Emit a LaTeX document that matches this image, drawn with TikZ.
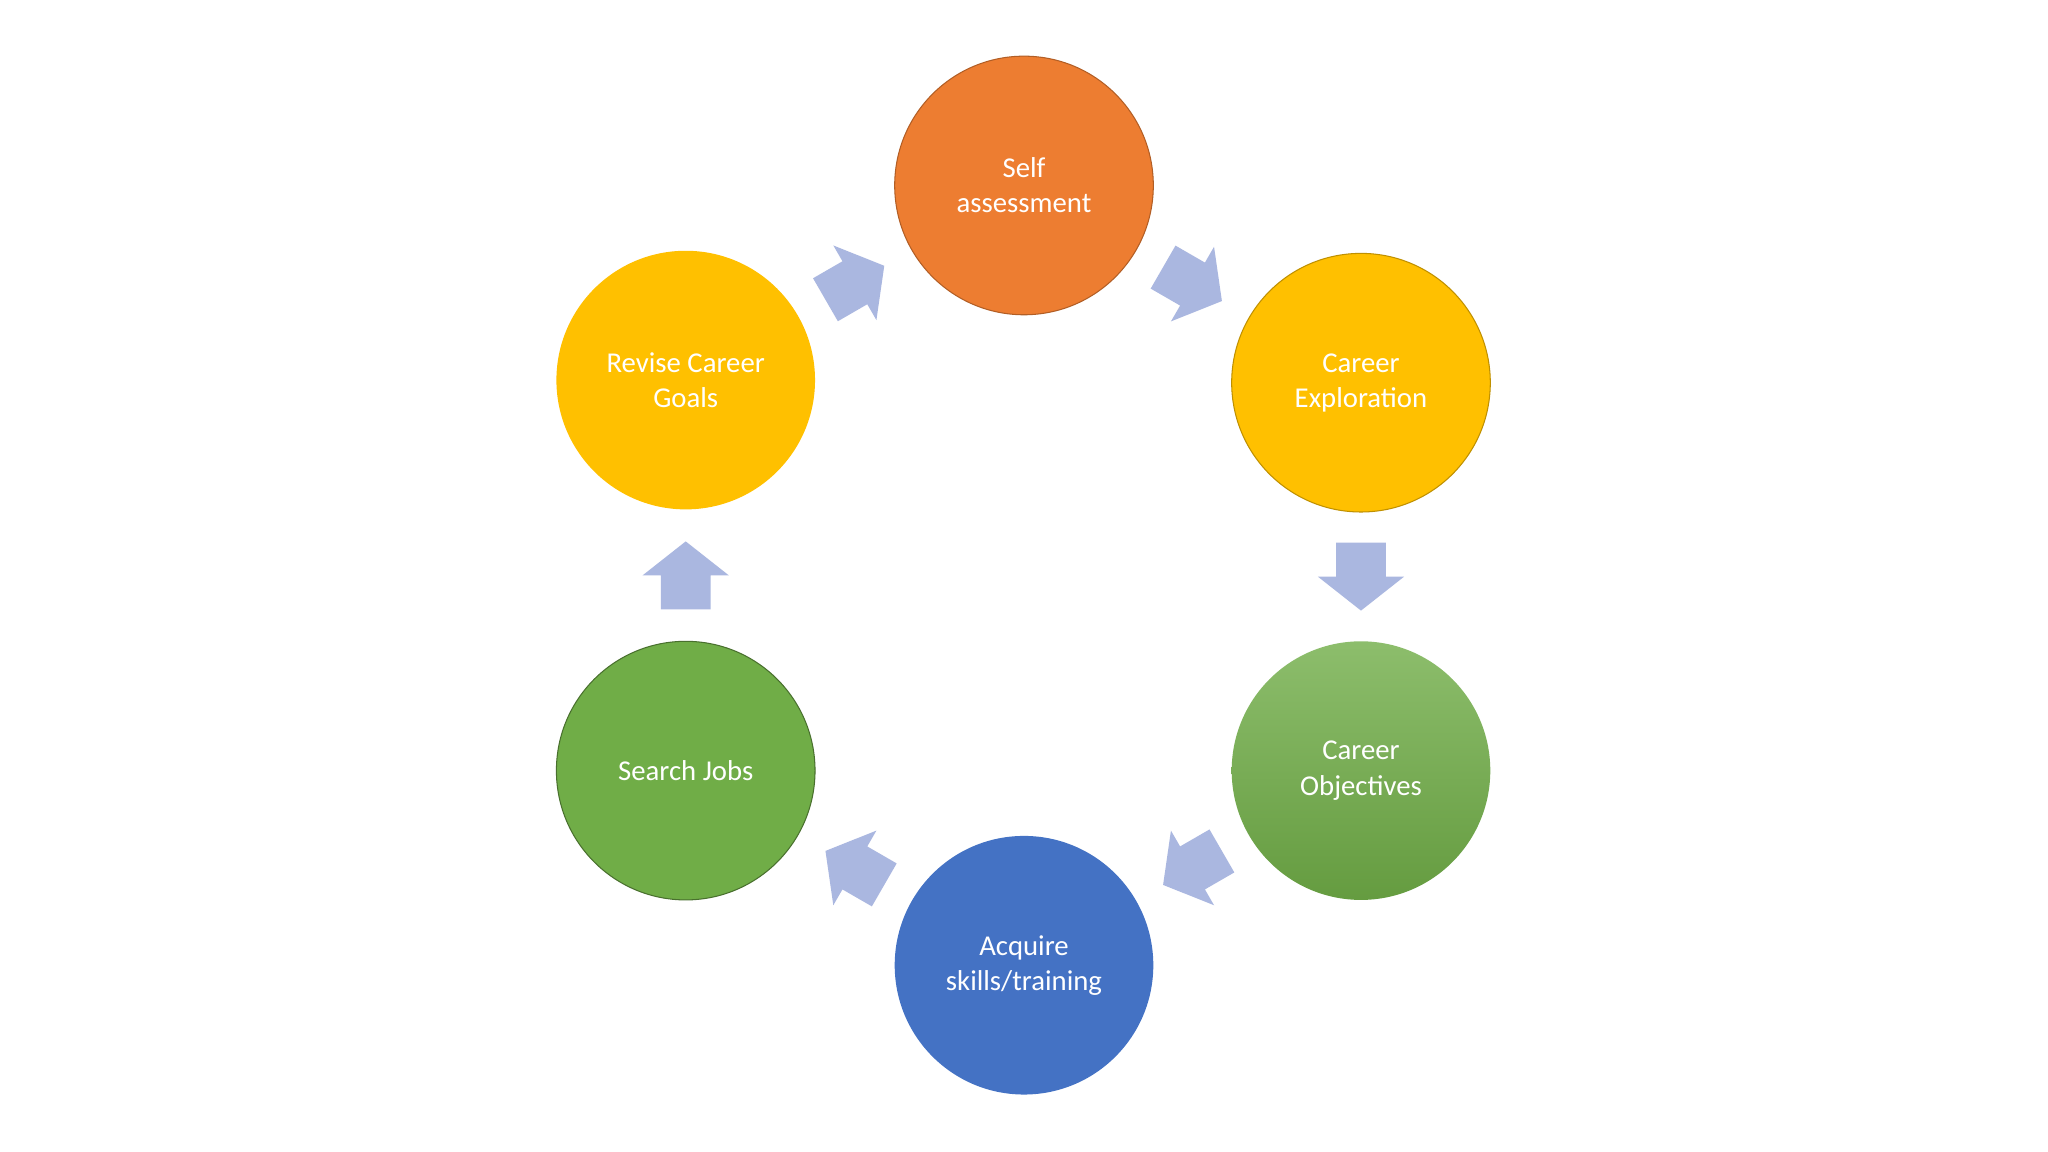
\documentclass[tikz,border=0pt]{standalone}
\usepackage{fontspec}
\setmainfont{Carlito}
\usetikzlibrary{calc}
\definecolor{corange}{HTML}{ED7D31}
\definecolor{cyellow}{HTML}{FFC000}
\definecolor{cgreen}{HTML}{70AD47}
\definecolor{cblue}{HTML}{4472C4}
\definecolor{carrow}{HTML}{AAB7E0}
\tikzset{
  stage/.style={circle, minimum size=198pt, inner sep=0pt, align=center, text=white, font=\fontsize{22}{27}\selectfont, line width=0.8pt},
  blockarr/.pic={\fill[carrow] (-26,-19) -- (0,-19) -- (0,-33) -- (26,0) -- (0,33) -- (0,19) -- (-26,19) -- cycle;}
}
\begin{document}
\begin{tikzpicture}[x=1pt,y=-1pt]
\useasboundingbox[fill=white] (0,0) rectangle (1568,882);
\node[stage, fill=corange, draw=corange!75!black] (self) at (784,142) {Self\\assessment};
\node[stage, fill=cyellow, draw=cyellow!75!black] (explo) at (1042,293) {Career\\Exploration};
\node[stage, top color=cgreen!80!white, bottom color=cgreen!90!black, draw=none] (obj) at (1042,590) {Career\\Objectives};
\node[stage, fill=cblue] (acq) at (784,739) {Acquire\\skills/training};
\node[stage, fill=cgreen, draw=cgreen!65!black] (search) at (525,590) {Search Jobs};
\node[stage, fill=cyellow] (revise) at (525,291) {Revise Career\\Goals};
\path ($(revise)!0.5!(self)$) pic[rotate=30] {blockarr};
\path ($(self)!0.5!(explo)$) pic[rotate=-30] {blockarr};
\path ($(explo)!0.5!(obj)$) pic[rotate=-90] {blockarr};
\path ($(obj)!0.5!(acq)$) pic[rotate=-150] {blockarr};
\path ($(acq)!0.5!(search)$) pic[rotate=150] {blockarr};
\path ($(search)!0.5!(revise)$) pic[rotate=90] {blockarr};
\end{tikzpicture}
\end{document}
